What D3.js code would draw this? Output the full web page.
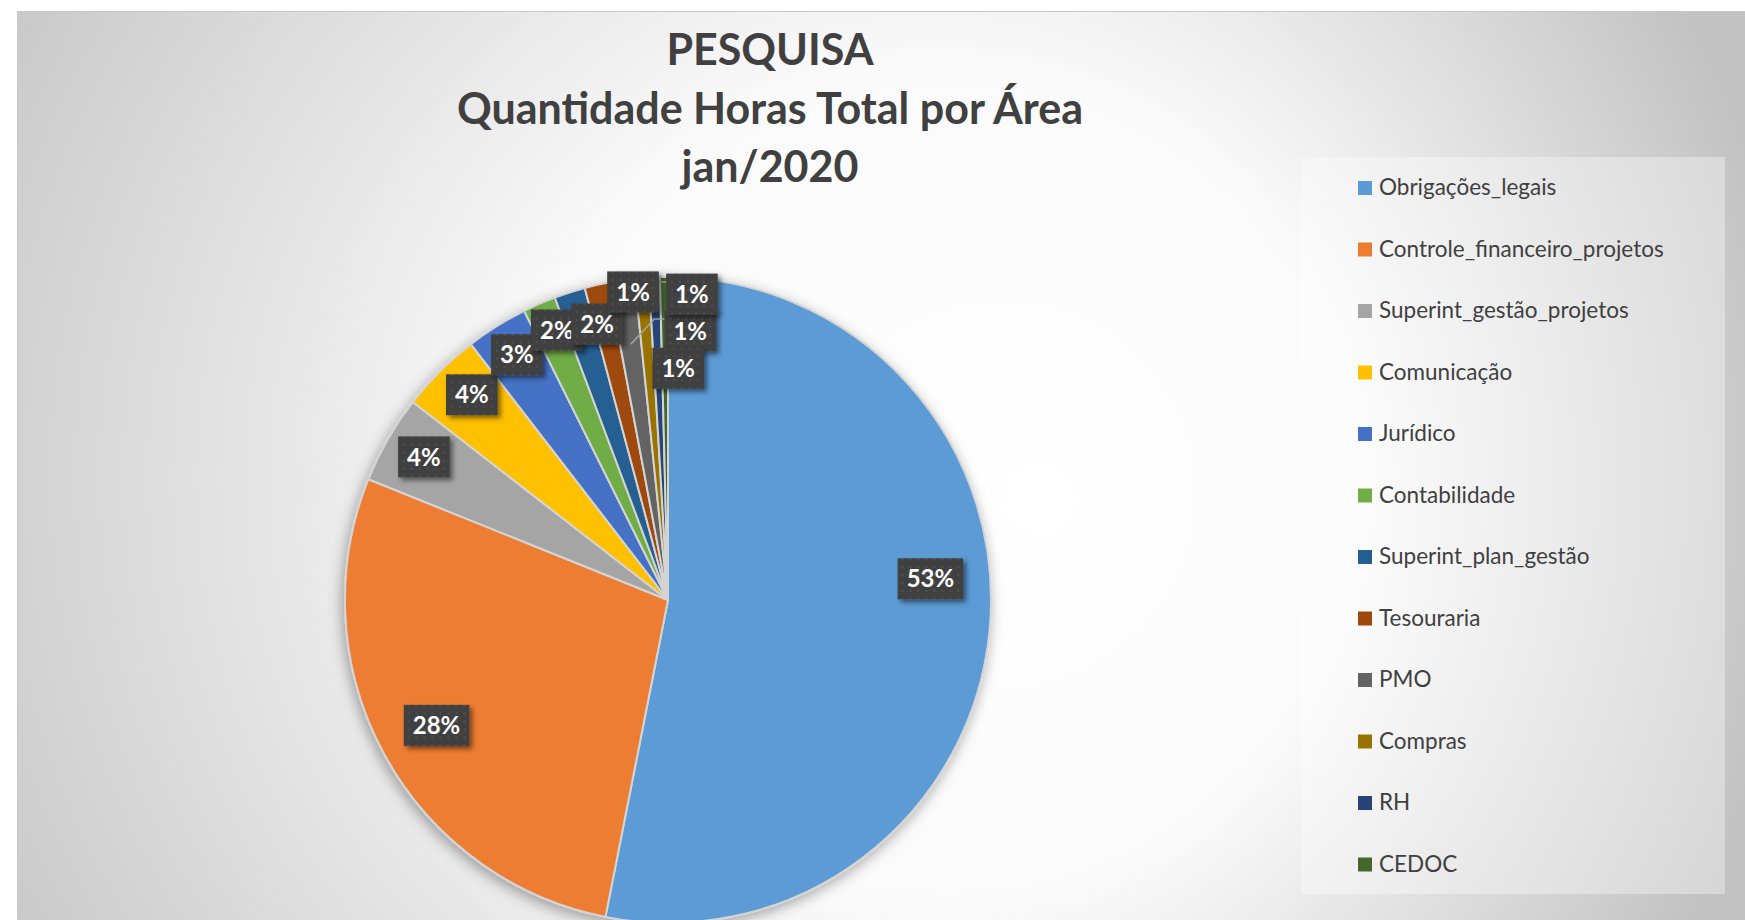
<!DOCTYPE html>
<html>
<head>
<meta charset="utf-8">
<script src="https://cdnjs.cloudflare.com/ajax/libs/d3/7.8.5/d3.min.js"></script>
<style>
body{margin:0;background:#fff;}
svg{display:block;}
</style>
</head>
<body>
<svg width="1745" height="920"></svg>
<script>
// dados
var areas = ["Obrigações_legais", "Controle_financeiro_projetos", "Superint_gestão_projetos",
	"Comunicação", "Jurídico", "Contabilidade", "Superint_plan_gestão", "Tesouraria",
	"PMO", "Compras", "RH", "CEDOC"];
var horas = [1062, 560, 88, 81, 62, 33, 31, 24, 26, 14, 11, 8];
var cores = ["#5B9BD5", "#ED7D31", "#A5A5A5", "#FFC000", "#4472C4", "#70AD47",
	"#255E91", "#9E480E", "#636363", "#997300", "#264478", "#43682B"];
var titulo = ["PESQUISA", "Quantidade Horas Total por Área", "jan/2020"];

// posicao dos rotulos (desvio em graus do meio da fatia, raio relativo)
var labelShift = [-10.2, 0, 0.5, 1.2, 0.4, 1.1, 3.3, 6.3, 13, 7.2, 6.9, 0];
var labelRadius = [0.815, 0.815, 0.876, 0.879, 0.892, 0.904, 0.882, 0.96, 0.836, 0.718, 0.95, 0];
var leaderR = [0, 0, 0, 0, 0, 0, 0, 0, 0.8, 0, 0.99, 0];

var W = 1745, H = 920;
var cx = 668, cy = 600, R = 323;

var svg = d3.select("svg");
var defs = svg.append("defs");

var grad = defs.append("radialGradient")
	.attr("id", "bg")
	.attr("gradientUnits", "userSpaceOnUse")
	.attr("cx", 800).attr("cy", 470).attr("r", 1000)
	.attr("fx", 1050).attr("fy", 500);
grad.append("stop").attr("offset", 0).attr("stop-color", "#ffffff");
grad.append("stop").attr("offset", 0.42).attr("stop-color", "#fafafa");
grad.append("stop").attr("offset", 1).attr("stop-color", "#c2c2c2");

var pat = defs.append("pattern")
	.attr("id", "dots")
	.attr("width", 8).attr("height", 8)
	.attr("patternUnits", "userSpaceOnUse");
pat.append("rect").attr("width", 8).attr("height", 8).attr("fill", "#404040");
pat.append("circle").attr("cx", 4).attr("cy", 4).attr("r", 1).attr("fill", "#555555");

defs.append("filter").attr("id", "pieShadow")
	.attr("x", "-20%").attr("y", "-20%").attr("width", "140%").attr("height", "140%")
	.append("feDropShadow")
	.attr("dx", -2).attr("dy", 4).attr("stdDeviation", 7)
	.attr("flood-color", "#000").attr("flood-opacity", 0.35);

defs.append("filter").attr("id", "boxShadow")
	.attr("x", "-30%").attr("y", "-30%").attr("width", "170%").attr("height", "170%")
	.append("feDropShadow")
	.attr("dx", 3).attr("dy", 3).attr("stdDeviation", 2.5)
	.attr("flood-color", "#000").attr("flood-opacity", 0.5);

// area do grafico
svg.append("rect")
	.attr("x", 17.5).attr("y", 11.5)
	.attr("width", W - 17).attr("height", H)
	.attr("fill", "url(#bg)")
	.attr("stroke", "#c8c8c8");

// titulo
svg.append("g").selectAll("text")
	.data(titulo)
	.enter()
	.append("text")
	.attr("x", 770)
	.attr("y", (d, i) => 65 + i * 58.5)
	.attr("text-anchor", "middle")
	.style("font-family", "Lato, 'Open Sans', sans-serif")
	.style("font-weight", "bold")
	.style("font-size", "43px")
	.style("fill", "#404040")
	.text(d => d);

// pizza
var dados = areas.map((a, i) => ({area: a, horas: horas[i], cor: cores[i], i: i}));
var total = d3.sum(horas);

var pie = d3.pie().sort(null).value(d => d.horas);
var arcs = pie(dados);
var arc = d3.arc().innerRadius(0).outerRadius(R);

var pieG = svg.append("g").attr("transform", "translate(" + cx + "," + cy + ")");

pieG.append("g")
	.attr("filter", "url(#pieShadow)")
	.selectAll("path")
	.data(arcs)
	.enter()
	.append("path")
	.attr("d", arc)
	.style("fill", d => d.data.cor)
	.style("stroke", "#d4d4d4")
	.style("stroke-width", 2)
	.style("stroke-linejoin", "round");

// rotulos
function polar(ang, r){
	return [r * Math.sin(ang), -r * Math.cos(ang)];
}

var rotulos = arcs.filter(d => Math.round(d.data.horas / total * 100) > 0);

var lab = pieG.append("g").selectAll("g")
	.data(rotulos)
	.enter()
	.append("g")
	.attr("transform", function(d){
		var i = d.data.i;
		var mid = (d.startAngle + d.endAngle) / 2 + labelShift[i] * Math.PI / 180;
		var p = polar(mid, labelRadius[i] * R);
		d.lx = p[0]; d.ly = p[1];
		return "translate(" + p[0] + "," + p[1] + ")";
	});

// linhas de chamada
pieG.insert("g", "g:last-child").selectAll("path")
	.data(rotulos.filter(d => leaderR[d.data.i] > 0))
	.enter()
	.append("path")
	.attr("d", function(d){
		var i = d.data.i;
		var mid = (d.startAngle + d.endAngle) / 2;
		var t = polar(mid, leaderR[i] * R);
		var x0 = d.lx - 25, y0 = d.ly - 12;
		return "M" + x0 + "," + y0 + "H" + (x0 - 11) + "L" + t[0] + "," + t[1];
	})
	.style("fill", "none")
	.style("stroke", "#a6a6a6")
	.style("stroke-width", 1.5);

lab.append("rect").attr("class", "box");
lab.append("text")
	.attr("text-anchor", "middle")
	.attr("dy", "0.36em")
	.style("font-family", "Lato, 'Open Sans', sans-serif")
	.style("font-weight", "bold")
	.style("font-size", "24px")
	.style("fill", "#ffffff")
	.text(d => Math.round(d.data.horas / total * 100) + "%");

lab.each(function(){
	var g = d3.select(this);
	var w = g.select("text").node().getComputedTextLength() + 18;
	g.select("rect")
		.attr("x", -w / 2).attr("y", -20.5)
		.attr("width", w).attr("height", 41)
		.attr("fill", "url(#dots)")
		.attr("filter", "url(#boxShadow)");
});

// legenda
var leg = svg.append("g");
leg.append("rect")
	.attr("x", 1301).attr("y", 157)
	.attr("width", 424).attr("height", 737)
	.attr("fill", "#ffffff")
	.attr("fill-opacity", 0.35);

var item = leg.selectAll("g.item")
	.data(dados)
	.enter()
	.append("g")
	.attr("class", "item")
	.attr("transform", (d, i) => "translate(1358," + (195 + i * 61.5) + ")");

item.append("rect")
	.attr("x", 0).attr("y", -14)
	.attr("width", 14).attr("height", 14)
	.style("fill", d => d.cor);

item.append("text")
	.attr("x", 21).attr("y", 0)
	.style("font-family", "Lato, 'Open Sans', sans-serif")
	.style("font-size", "22.5px")
	.style("fill", "#404040")
	.text(d => d.area);
</script>
</body>
</html>
